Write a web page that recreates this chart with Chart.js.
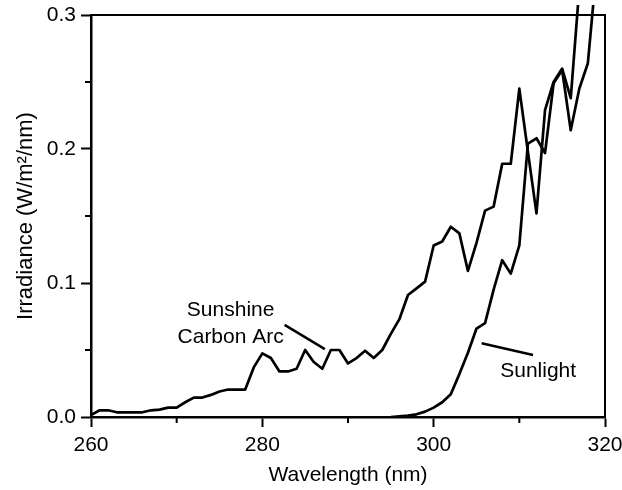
<!DOCTYPE html>
<html>
<head>
<meta charset="utf-8">
<script src="https://cdn.jsdelivr.net/npm/chart.js@4/dist/chart.umd.min.js"></script>
<style>
  body { margin: 0; background: #fff; }
  canvas { display: block; }
</style>
</head>
<body>
<canvas id="grafico" width="622" height="490"></canvas>
<script>
// wavelengths in nm, irradiance in W/m2/nm
const arcWavelengths = [260, 261, 262, 263, 264, 265, 266, 267, 268, 269, 270, 271, 272, 273, 274, 275, 276, 277, 278, 279,
  280, 281, 282, 283, 284, 285, 286, 287, 288, 289, 290, 291, 292, 293, 294, 295, 296, 297, 298, 299,
  300, 301, 302, 303, 304, 305, 306, 307, 308, 309, 310, 311, 312, 313, 314, 315, 316, 317];
const arcValues = [0.0015, 0.005, 0.005, 0.0035, 0.0035, 0.0035, 0.0035, 0.005, 0.0055, 0.007, 0.007, 0.011, 0.0145, 0.0145, 0.0165, 0.019, 0.0205, 0.0205, 0.0205, 0.037,
  0.0475, 0.044, 0.034, 0.034, 0.036, 0.050, 0.041, 0.036, 0.050, 0.050, 0.040, 0.044, 0.0495, 0.044, 0.050, 0.062, 0.073, 0.091, 0.096, 0.101,
  0.128, 0.131, 0.142, 0.137, 0.109, 0.130, 0.154, 0.157, 0.189, 0.189, 0.245, 0.198, 0.152, 0.229, 0.250, 0.260, 0.238, 0.32];

const sunWavelengths = [295, 296, 297, 298, 299, 300, 301, 302, 303, 304, 305, 306, 307, 308, 309, 310, 311, 312, 313, 314, 315, 316, 317, 318, 319];
const sunValues = [0, 0.0005, 0.001, 0.002, 0.004, 0.007, 0.011, 0.017, 0.032, 0.048, 0.066, 0.070, 0.095, 0.117, 0.107, 0.128, 0.204, 0.208, 0.197, 0.249, 0.259, 0.214, 0.245, 0.264, 0.334];

const xTicks = [260, 280, 300, 320];
const xMinorTicks = [270, 290, 310];
const yTicks = [0, 0.1, 0.2, 0.3];
const yMinorTicks = [0.05, 0.15, 0.25];

// labels written on the plot (data coordinates)
const noteTexts = ["Sunshine", "Carbon Arc", "Sunlight"];
const noteX = [276.3, 276.3, 312.2];
const noteY = [0.0795, 0.0595, 0.034];
const leaders = [[282.6, 0.0687, 287.3, 0.0507], [305.6, 0.055, 311.6, 0.0463]];

const toPoints = (xs, ys) => xs.map((x, i) => ({ x: x, y: ys[i] }));

const extras = {
  id: "extras",
  afterDatasetsDraw(chart) {
    const { ctx, chartArea: a, scales: { x, y } } = chart;
    ctx.save();
    ctx.strokeStyle = "#000";
    ctx.fillStyle = "#000";
    ctx.lineWidth = 2;
    ctx.strokeRect(a.left, a.top, a.right - a.left, a.bottom - a.top);

    ctx.beginPath();
    xMinorTicks.forEach(v => {
      const px = x.getPixelForValue(v);
      ctx.moveTo(px, a.bottom);
      ctx.lineTo(px, a.bottom + 6);
    });
    yMinorTicks.forEach(v => {
      const py = y.getPixelForValue(v);
      ctx.moveTo(a.left, py);
      ctx.lineTo(a.left - 6, py);
    });
    ctx.stroke();

    ctx.lineWidth = 2.5;
    ctx.beginPath();
    leaders.forEach(l => {
      ctx.moveTo(x.getPixelForValue(l[0]), y.getPixelForValue(l[1]));
      ctx.lineTo(x.getPixelForValue(l[2]), y.getPixelForValue(l[3]));
    });
    ctx.stroke();

    ctx.font = '21px "Liberation Sans"';
    ctx.textAlign = "center";
    ctx.textBaseline = "middle";
    noteTexts.forEach((t, i) => {
      ctx.fillText(t, x.getPixelForValue(noteX[i]), y.getPixelForValue(noteY[i]));
    });
    ctx.restore();
  }
};

Chart.defaults.font.family = '"Liberation Sans", Arial, sans-serif';
Chart.defaults.font.size = 21;
Chart.defaults.color = "#000";

const lineStyle = {
  borderColor: "#000",
  borderWidth: 2.7,
  pointRadius: 0,
  tension: 0,
  fill: false,
  borderJoinStyle: "round",
  clip: { left: 0, right: 0, top: 10, bottom: 0 }
};

new Chart(document.getElementById("grafico").getContext("2d"), {
  type: "line",
  data: {
    datasets: [
      Object.assign({ label: "Sunshine Carbon Arc", data: toPoints(arcWavelengths, arcValues) }, lineStyle),
      Object.assign({ label: "Sunlight", data: toPoints(sunWavelengths, sunValues) }, lineStyle)
    ]
  },
  options: {
    responsive: false,
    animation: false,
    layout: { padding: { top: 15, right: 17, left: 0, bottom: 0 } },
    plugins: { legend: { display: false }, tooltip: { enabled: false } },
    scales: {
      x: {
        type: "linear",
        min: 260,
        max: 320,
        afterFit: s => { s.height = 73; s.paddingLeft = 0; s.paddingRight = 0; },
        afterBuildTicks: s => { s.ticks = xTicks.map(v => ({ value: v })); },
        ticks: { padding: 6, maxRotation: 0, callback: v => String(v) },
        grid: { drawOnChartArea: false, tickLength: 10, tickColor: "#000", tickWidth: 2 },
        border: { color: "#000", width: 2.5 },
        title: { display: true, text: "Wavelength (nm)", padding: { top: 0, bottom: 2 } }
      },
      y: {
        min: 0,
        max: 0.3,
        afterFit: s => { s.width = 91; s.paddingTop = 0; s.paddingBottom = 0; },
        afterBuildTicks: s => { s.ticks = yTicks.map(v => ({ value: v })); },
        ticks: { padding: 5, callback: v => v.toFixed(1) },
        grid: { drawOnChartArea: false, tickLength: 10, tickColor: "#000", tickWidth: 2 },
        border: { color: "#000", width: 2.5 },
        title: { display: true, text: "Irradiance (W/m²/nm)", font: { size: 22 }, padding: { top: 13, bottom: 0 } }
      }
    }
  },
  plugins: [extras]
});
</script>
</body>
</html>
